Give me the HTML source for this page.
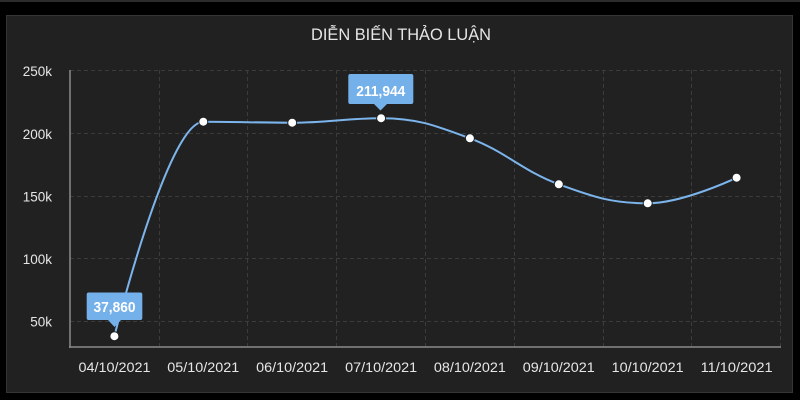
<!DOCTYPE html>
<html><head><meta charset="utf-8"><style>
html,body{margin:0;padding:0;background:#000;}
svg{display:block;}
text{font-family:"Liberation Sans",sans-serif;}
</style></head><body>
<svg width="800" height="400" viewBox="0 0 800 400" xmlns="http://www.w3.org/2000/svg">
<rect x="0" y="0" width="800" height="400" fill="#000"/>
<rect x="0" y="0" width="800" height="2" fill="#2c2c2c"/>
<rect x="6.5" y="15.5" width="786" height="377" fill="#212121" stroke="#353535" stroke-width="1"/>
<text x="401" y="40" text-anchor="middle" font-size="16.5" fill="#e6e6e6" textLength="180" lengthAdjust="spacingAndGlyphs">DIỄN BIẾN THẢO LUẬN</text>
<g stroke="#3c3c3c" stroke-width="1" stroke-dasharray="4,3" fill="none">
<line x1="70" y1="70.5" x2="781" y2="70.5"/>
<line x1="70" y1="133.5" x2="781" y2="133.5"/>
<line x1="70" y1="196.5" x2="781" y2="196.5"/>
<line x1="70" y1="258.5" x2="781" y2="258.5"/>
<line x1="70" y1="321.5" x2="781" y2="321.5"/>
<line x1="159.5" y1="70" x2="159.5" y2="347"/>
<line x1="247.5" y1="70" x2="247.5" y2="347"/>
<line x1="336.5" y1="70" x2="336.5" y2="347"/>
<line x1="425.5" y1="70" x2="425.5" y2="347"/>
<line x1="514.5" y1="70" x2="514.5" y2="347"/>
<line x1="603.5" y1="70" x2="603.5" y2="347"/>
<line x1="691.5" y1="70" x2="691.5" y2="347"/>
<line x1="780.5" y1="70" x2="780.5" y2="347"/>
</g>
<line x1="70" y1="70" x2="70" y2="348" stroke="#8a8a8a" stroke-width="1.5"/>
<line x1="69" y1="347" x2="781" y2="347" stroke="#8a8a8a" stroke-width="1.5"/>
<g font-size="13.5" fill="#e6e6e6" text-anchor="end">
<text x="52" y="76">250k</text>
<text x="52" y="139">200k</text>
<text x="52" y="201.5">150k</text>
<text x="52" y="264">100k</text>
<text x="52" y="326.5">50k</text>
</g>
<g font-size="14" fill="#e6e6e6" text-anchor="middle">
<text x="114.5" y="372" textLength="72" lengthAdjust="spacingAndGlyphs">04/10/2021</text>
<text x="203.3" y="372" textLength="72" lengthAdjust="spacingAndGlyphs">05/10/2021</text>
<text x="292.2" y="372" textLength="72" lengthAdjust="spacingAndGlyphs">06/10/2021</text>
<text x="381.1" y="372" textLength="72" lengthAdjust="spacingAndGlyphs">07/10/2021</text>
<text x="469.9" y="372" textLength="72" lengthAdjust="spacingAndGlyphs">08/10/2021</text>
<text x="558.8" y="372" textLength="72" lengthAdjust="spacingAndGlyphs">09/10/2021</text>
<text x="647.7" y="372" textLength="72" lengthAdjust="spacingAndGlyphs">10/10/2021</text>
<text x="736.6" y="372" textLength="72" lengthAdjust="spacingAndGlyphs">11/10/2021</text>
</g>
<path d="M114.4,336.2 C114.4,336.2 167.74,121.7 203.3,121.7 C238.86,121.7 256.64,122.7 292.2,122.7 C327.76,122.7 345.54,118.2 381.1,118.2 C416.62,118.2 434.38,125.09 469.9,138.3 C505.46,151.53 523.24,171.3 558.8,184.3 C594.36,197.3 612.14,203.3 647.7,203.3 C683.26,203.3 736.6,177.7 736.6,177.7" fill="none" stroke="#7cb5ec" stroke-width="2"/>
<g fill="#ffffff" stroke="#212121" stroke-width="1">
<circle cx="114.4" cy="336.2" r="4.5"/>
<circle cx="203.3" cy="121.7" r="4.5"/>
<circle cx="292.2" cy="122.7" r="4.5"/>
<circle cx="381.1" cy="118.2" r="4.5"/>
<circle cx="469.9" cy="138.3" r="4.5"/>
<circle cx="558.8" cy="184.3" r="4.5"/>
<circle cx="647.7" cy="203.3" r="4.5"/>
<circle cx="736.6" cy="177.7" r="4.5"/>
</g>
<g fill="#74b0ea">
<path d="M350.3,74 H411.3 Q413.3,74 413.3,76 V102 Q413.3,104 411.3,104 H387 L380.5,110.5 L374,104 H350.3 Q348.3,104 348.3,102 V76 Q348.3,74 350.3,74 Z"/>
<path d="M88.7,292.5 H140.3 Q142.3,292.5 142.3,294.5 V318 Q142.3,320 140.3,320 H121 L114.5,327 L108,320 H88.7 Q86.7,320 86.7,318 V294.5 Q86.7,292.5 88.7,292.5 Z"/>
</g>
<g font-size="14.5" font-weight="bold" fill="#ffffff" text-anchor="middle">
<text x="380.8" y="96" textLength="49" lengthAdjust="spacingAndGlyphs">211,944</text>
<text x="114.5" y="312" textLength="42" lengthAdjust="spacingAndGlyphs">37,860</text>
</g>
</svg>
</body></html>
